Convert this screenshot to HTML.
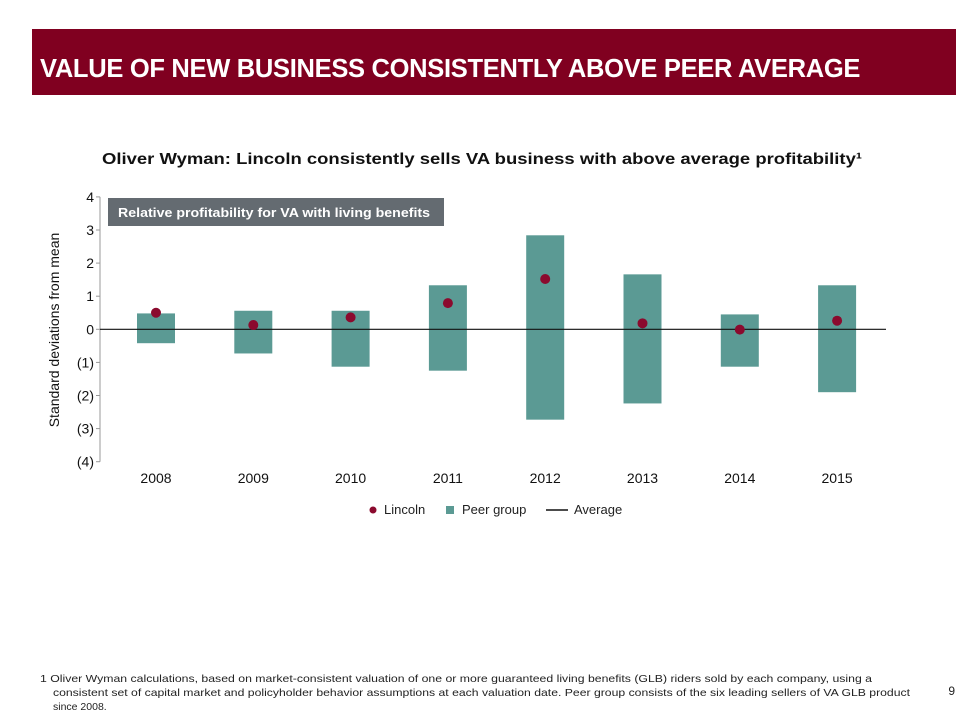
<!DOCTYPE html>
<html><head><meta charset="utf-8"><style>
body{margin:0;width:960px;height:720px;background:#fff;position:relative;overflow:hidden;font-family:"Liberation Sans",sans-serif}
.hdr{position:absolute;left:32px;top:29px;width:924px;height:66px;background:#800020}
.hdr span{position:absolute;left:8px;top:26px;color:#fff;font-weight:bold;font-size:25.5px;letter-spacing:-0.3px;white-space:nowrap}
</style></head><body>
<div class="hdr"><span>VALUE OF NEW BUSINESS CONSISTENTLY ABOVE PEER AVERAGE</span></div>
<svg id="c" width="960" height="720" style="position:absolute;left:0;top:0">
<text x="482" y="164" text-anchor="middle" font-size="16" font-weight="bold" fill="#111" textLength="760" lengthAdjust="spacingAndGlyphs">Oliver Wyman: Lincoln consistently sells VA business with above average profitability¹</text>
<rect x="108" y="198" width="336" height="28" fill="#646b71"/>
<text x="118" y="217" font-size="12.5" font-weight="bold" fill="#fff" textLength="312" lengthAdjust="spacingAndGlyphs">Relative profitability for VA with living benefits</text>
<text transform="translate(59,330) rotate(-90)" text-anchor="middle" font-size="14" fill="#111">Standard deviations from mean</text>
<g id="ax"></g><g id="marks"></g>
<g>
<circle cx="373" cy="510" r="3.5" fill="#8b0a2e"/>
<text x="384" y="514" font-size="13" fill="#222">Lincoln</text>
<rect x="446" y="506" width="8" height="8" fill="#5b9a94"/>
<text x="462" y="514" font-size="13" fill="#222">Peer group</text>
<line x1="546" y1="510" x2="568" y2="510" stroke="#111" stroke-width="1.5"/>
<text x="574" y="514" font-size="13" fill="#222">Average</text>
</g>
<text x="40" y="682" font-size="10.5" fill="#222"><tspan x="40" textLength="832" lengthAdjust="spacingAndGlyphs">1  Oliver Wyman calculations, based on market-consistent valuation of one or more guaranteed living benefits (GLB) riders sold by each company, using a</tspan><tspan x="53" dy="14" textLength="857" lengthAdjust="spacingAndGlyphs">consistent set of capital market and policyholder behavior assumptions at each valuation date. Peer group consists of the six leading sellers of VA GLB product</tspan><tspan x="53" dy="14">since 2008.</tspan></text>
<text x="955" y="695" font-size="12" text-anchor="end" fill="#222">9</text>
</svg>
<script>
const categories=["2008","2009","2010","2011","2012","2013","2014","2015"];
const peerHigh=[0.48,0.56,0.56,1.33,2.84,1.66,0.45,1.33];
const peerLow=[-0.42,-0.73,-1.13,-1.25,-2.73,-2.24,-1.13,-1.9];
const lincoln=[0.50,0.13,0.36,0.79,1.52,0.18,-0.01,0.26];
const yTicks=[4,3,2,1,0,-1,-2,-3,-4];
const yLabels=["4","3","2","1","0","(1)","(2)","(3)","(4)"];
const NS="http://www.w3.org/2000/svg";
const y=v=>329.3-v*33.1;
const x=i=>156+i*97.3;
function mk(t,a,p){const e=document.createElementNS(NS,t);for(const k in a)e.setAttribute(k,a[k]);p.appendChild(e);return e;}
const ax=document.getElementById('ax'),mg=document.getElementById('marks');
const yl=mk('line',{x1:100,y1:y(4),x2:100,y2:y(-4),stroke:'#999'},ax);


yTicks.forEach((v,i)=>{
 const tk=mk('line',{x1:96,y1:y(v),x2:100,y2:y(v),stroke:'#999'},ax);
 
 
 const t=mk('text',{x:94,y:y(v)+5,'text-anchor':'end','font-size':14,fill:'#111'},ax);
 t.textContent=yLabels[i];
 
 
});
categories.forEach((c,i)=>{
 const t=mk('text',{x:x(i),y:483,'text-anchor':'middle','font-size':14,fill:'#111'},ax);
 t.textContent=c;
 
 
 const r=mk('rect',{x:x(i)-19,y:y(peerHigh[i]),width:38,height:y(peerLow[i])-y(peerHigh[i]),fill:'#5b9a94'},mg);
 
 
});
const zl=mk('line',{x1:100,y1:y(0),x2:886,y2:y(0),stroke:'#111','stroke-width':1.2},mg);


categories.forEach((c,i)=>{
 const d=mk('circle',{cx:x(i),cy:y(lincoln[i]),r:5,fill:'#8b0a2e'},mg);
 
 
});
</script>
</body></html>
